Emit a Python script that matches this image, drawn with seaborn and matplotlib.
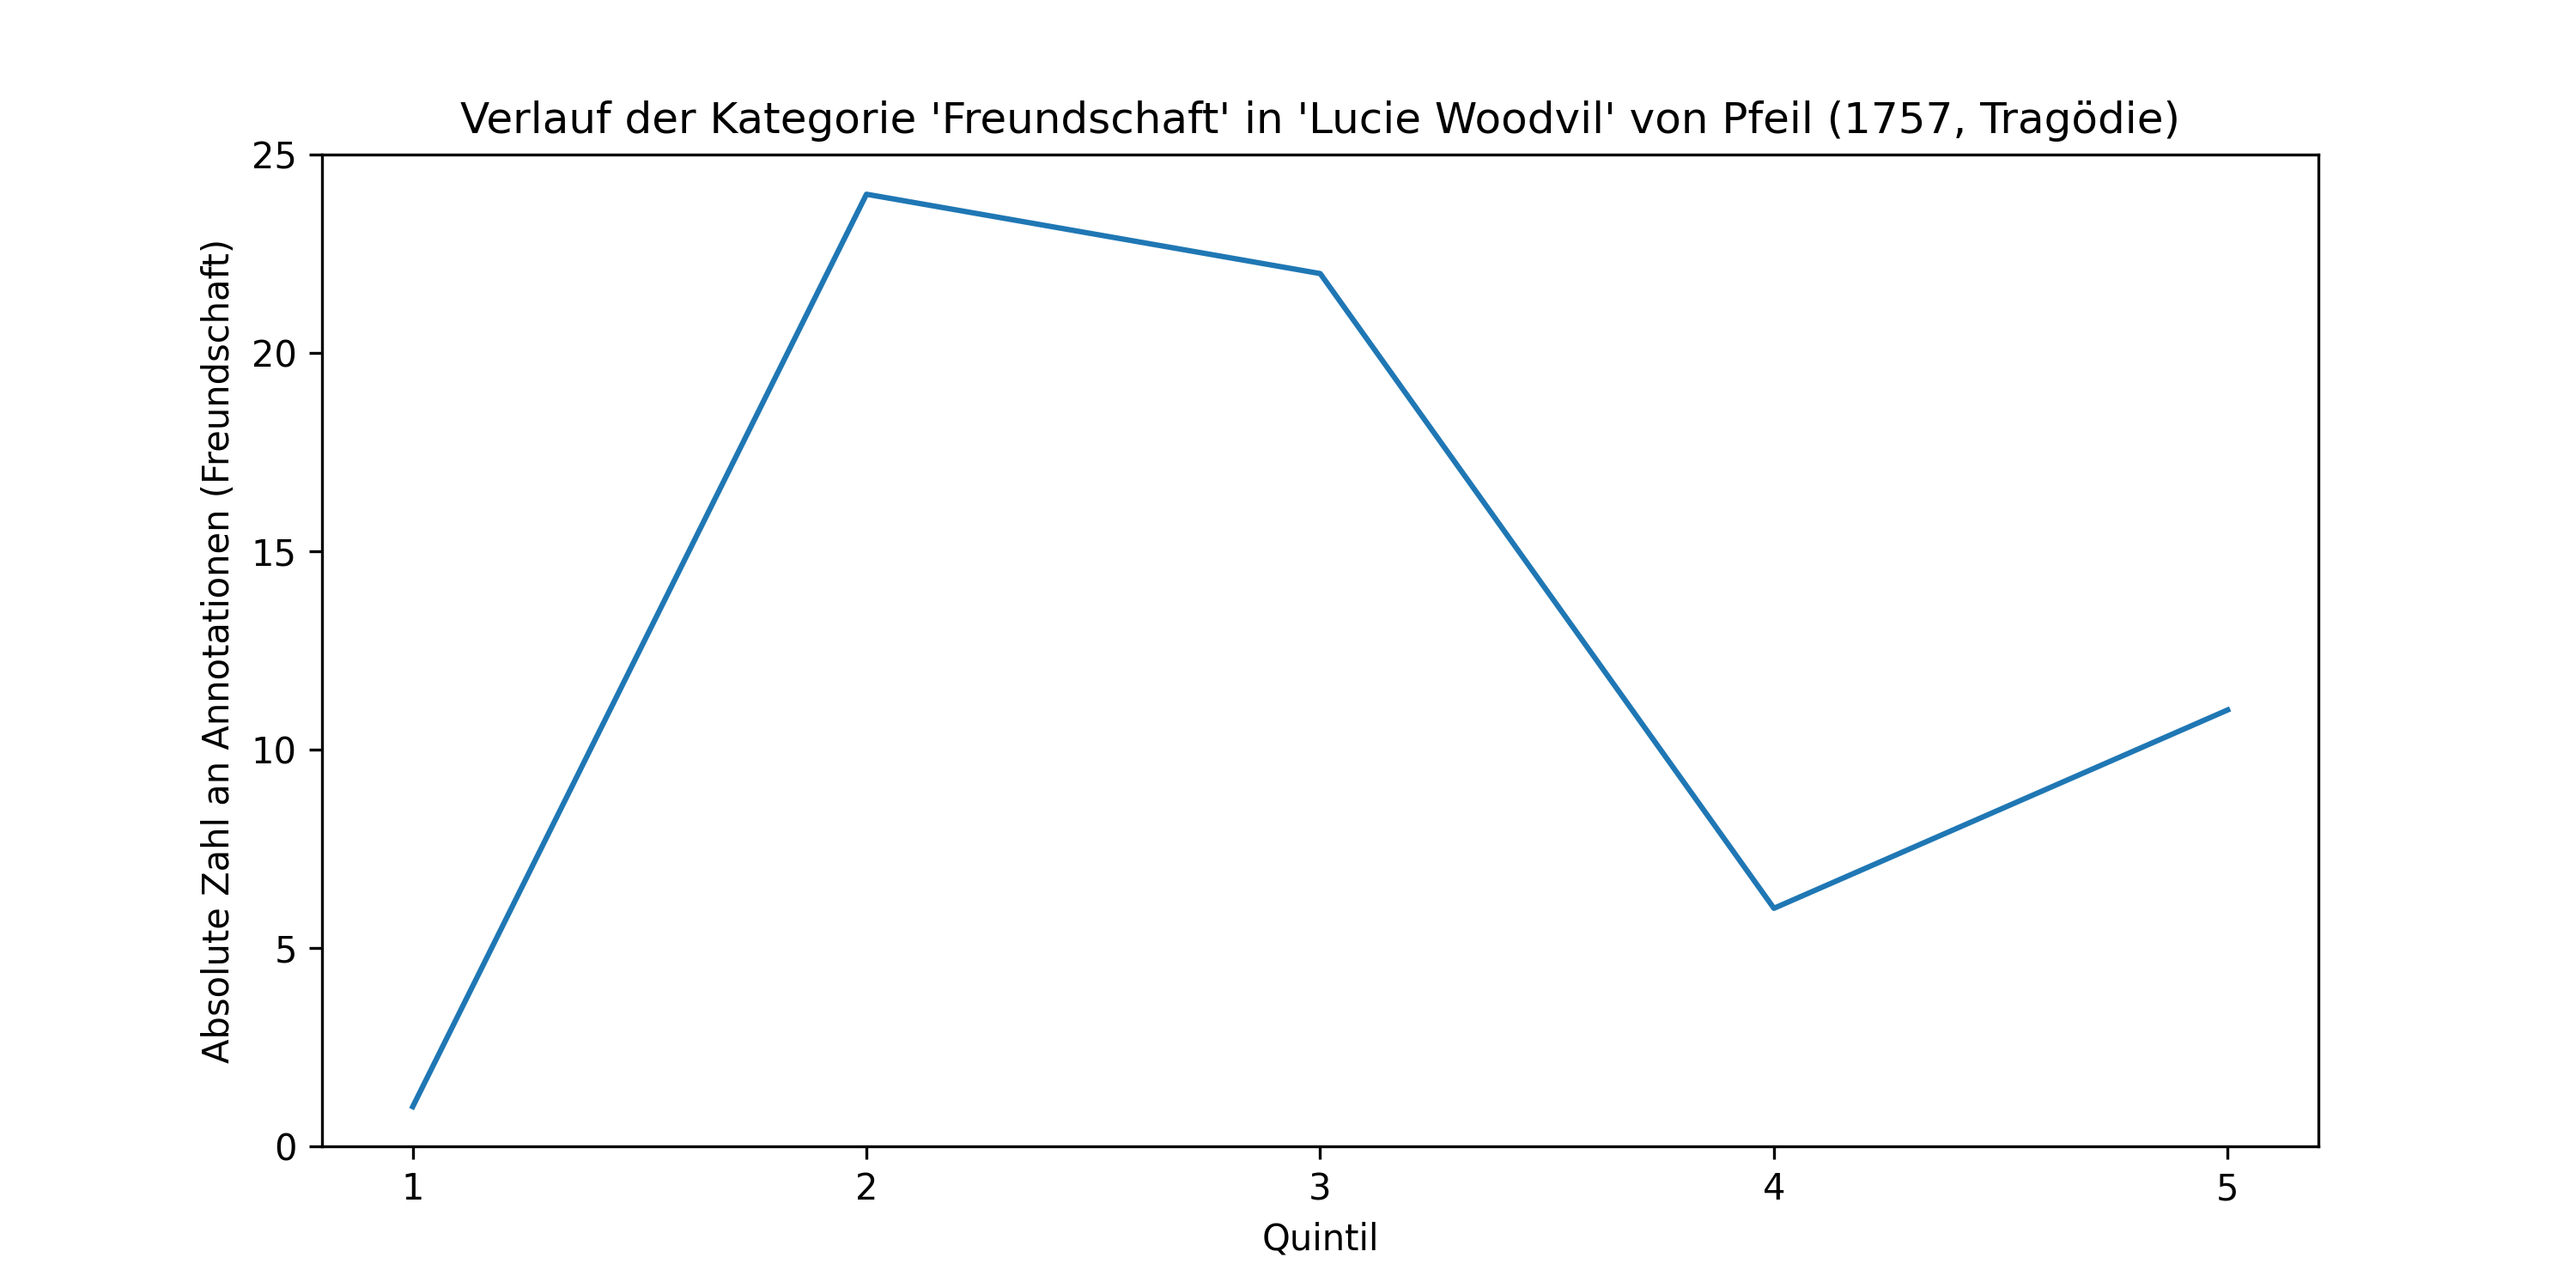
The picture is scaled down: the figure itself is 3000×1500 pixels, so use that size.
import matplotlib
matplotlib.use("Agg")
import matplotlib.pyplot as plt
import seaborn as sns

quintile = [1, 2, 3, 4, 5]
counts = [1, 24, 22, 6, 11]

fig, ax = plt.subplots(figsize=(10, 5), dpi=300)
sns.lineplot(x=quintile, y=counts, ax=ax, color="#1f77b4")
ax.set_title("Verlauf der Kategorie 'Freundschaft' in 'Lucie Woodvil' von Pfeil (1757, Tragödie)")
ax.set_xlabel("Quintil")
ax.set_ylabel("Absolute Zahl an Annotationen (Freundschaft)")
ax.set_xticks(quintile)
ax.set_ylim(0, max(counts) + 1)
fig.savefig("out.png")
